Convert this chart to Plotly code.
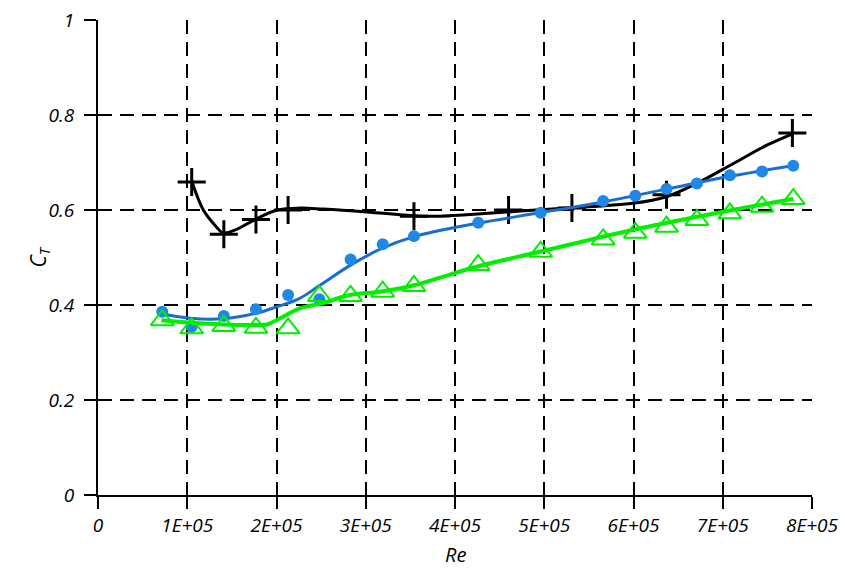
import plotly.graph_objects as go

# Measured thrust coefficient versus Reynolds number
re_black = [1.05e5, 1.41e5, 1.77e5, 2.13e5, 3.54e5, 4.60e5, 5.31e5, 6.37e5, 7.78e5]
ct_black = [0.659, 0.549, 0.580, 0.600, 0.587, 0.600, 0.604, 0.632, 0.762]

re_blue = [0.72e5, 1.05e5, 1.41e5, 1.77e5, 2.13e5, 2.48e5, 2.83e5, 3.19e5, 3.54e5,
           4.26e5, 4.96e5, 5.66e5, 6.02e5, 6.37e5, 6.71e5, 7.08e5, 7.44e5, 7.79e5]
ct_blue = [0.386, 0.354, 0.377, 0.391, 0.421, 0.412, 0.496, 0.528, 0.545,
           0.573, 0.594, 0.619, 0.630, 0.644, 0.656, 0.673, 0.681, 0.693]

re_green = [0.72e5, 1.05e5, 1.41e5, 1.77e5, 2.13e5, 2.48e5, 2.83e5, 3.19e5, 3.54e5,
            4.26e5, 4.96e5, 5.66e5, 6.02e5, 6.37e5, 6.71e5, 7.08e5, 7.44e5, 7.79e5]
ct_green = [0.368, 0.351, 0.356, 0.352, 0.351, 0.419, 0.419, 0.428, 0.440,
            0.484, 0.512, 0.538, 0.552, 0.565, 0.579, 0.593, 0.607, 0.623]

# Smoothed trend curves
re_black_fit = [1.05e5, 1.18e5, 1.31e5, 1.40e5, 1.54e5, 1.77e5, 2.01e5, 2.26e5, 2.52e5,
                3.01e5, 3.53e5, 3.83e5, 4.13e5, 4.99e5, 5.99e5, 6.37e5, 6.75e5, 7.12e5,
                7.50e5, 7.79e5]
ct_black_fit = [0.661, 0.600, 0.568, 0.552, 0.558, 0.581, 0.600, 0.604, 0.602,
                0.596, 0.588, 0.587, 0.590, 0.601, 0.614, 0.628, 0.660, 0.698,
                0.737, 0.761]

re_blue_fit = [0.68e5, 1.03e5, 1.40e5, 1.78e5, 2.00e5, 2.26e5, 2.49e5, 2.83e5, 3.18e5,
               3.54e5, 4.25e5, 4.95e5, 5.66e5, 6.37e5, 7.11e5, 7.79e5]
ct_blue_fit = [0.383, 0.372, 0.371, 0.383, 0.396, 0.414, 0.442, 0.484, 0.519,
               0.544, 0.572, 0.594, 0.617, 0.644, 0.672, 0.693]

re_green_fit = [0.71e5, 1.03e5, 1.40e5, 1.78e5, 1.89e5, 2.04e5, 2.26e5, 2.52e5, 2.82e5,
                3.16e5, 3.53e5, 4.25e5, 4.95e5, 5.99e5, 7.11e5, 7.79e5]
ct_green_fit = [0.368, 0.363, 0.359, 0.358, 0.359, 0.372, 0.393, 0.404, 0.421,
                0.428, 0.441, 0.481, 0.512, 0.558, 0.600, 0.623]

x_ticks = [0, 1e5, 2e5, 3e5, 4e5, 5e5, 6e5, 7e5, 8e5]
x_labels = ["0", "1E+05", "2E+05", "3E+05", "4E+05", "5E+05", "6E+05", "7E+05", "8E+05"]
y_ticks = [0, 0.2, 0.4, 0.6, 0.8, 1.0]
y_labels = ["0", "0.2", "0.4", "0.6", "0.8", "1"]

BLACK = "#000000"
BLUE_DOT = "#1f87e6"
BLUE_LINE = "#1a6dd0"
GREEN = "#00ee00"
FONT = "Open Sans"

fig = go.Figure()

fig.add_trace(go.Scatter(x=re_black_fit, y=ct_black_fit, mode="lines",
                         line=dict(color=BLACK, width=3, shape="spline", smoothing=1.0),
                         hoverinfo="skip"))
fig.add_trace(go.Scatter(x=re_black, y=ct_black, mode="markers",
                         marker=dict(symbol="cross-thin-open", size=20, color=BLACK,
                                     line=dict(color=BLACK, width=3))))

fig.add_trace(go.Scatter(x=re_blue_fit, y=ct_blue_fit, mode="lines",
                         line=dict(color=BLUE_LINE, width=3, shape="spline", smoothing=1.0),
                         hoverinfo="skip"))
fig.add_trace(go.Scatter(x=re_blue, y=ct_blue, mode="markers",
                         marker=dict(symbol="circle", size=12, color=BLUE_DOT,
                                     line=dict(width=0))))

fig.add_trace(go.Scatter(x=re_green_fit, y=ct_green_fit, mode="lines",
                         line=dict(color=GREEN, width=4, shape="spline", smoothing=1.0),
                         hoverinfo="skip"))
fig.add_trace(go.Scatter(x=re_green, y=ct_green, mode="markers",
                         marker=dict(symbol="triangle-up-open", size=20, color=GREEN,
                                     line=dict(color=GREEN, width=2))))

# Overlay axes supply the inner half of the crossing tick marks
fig.add_trace(go.Scatter(x=[None], y=[None], xaxis="x2", yaxis="y2",
                         mode="markers", hoverinfo="skip"))

common = dict(showline=True, linecolor=BLACK, linewidth=2, ticks="outside",
              ticklen=12, tickwidth=2, tickcolor=BLACK, zeroline=False,
              showgrid=True, gridcolor=BLACK, gridwidth=2, griddash="14px,8px",
              automargin=False,
              tickfont=dict(family=FONT, size=19, color=BLACK, style="italic"))

inner = dict(showticklabels=False, ticks="inside", ticklen=12, tickwidth=2,
             tickcolor=BLACK, showgrid=False, zeroline=False, showline=False,
             automargin=False)

fig.update_layout(
    width=845, height=569,
    margin=dict(l=98, r=33, t=20, b=74, autoexpand=False),
    paper_bgcolor="white", plot_bgcolor="white",
    showlegend=False,
    xaxis=dict(range=[0, 8e5], tickvals=x_ticks, ticktext=x_labels, **common),
    yaxis=dict(range=[0, 1], tickvals=y_ticks, ticktext=y_labels,
               ticklabelstandoff=6, **common),
    xaxis2=dict(range=[0, 8e5], overlaying="x", anchor="y2", side="bottom",
                tickvals=x_ticks, **inner),
    yaxis2=dict(range=[0, 1], overlaying="y", anchor="x2", side="left",
                tickvals=y_ticks, **inner),
    annotations=[
        dict(text="C<sub>T</sub>", xref="paper", yref="paper",
             x=0, y=0.5, xanchor="center", yanchor="middle",
             xshift=-60, textangle=-90, showarrow=False, borderpad=0,
             font=dict(family=FONT, size=21, color=BLACK, style="italic")),
        dict(text="Re", xref="paper", yref="paper",
             x=0.5, y=0, xanchor="center", yanchor="middle",
             yshift=-59, showarrow=False, borderpad=0,
             font=dict(family=FONT, size=20, color=BLACK, style="italic")),
    ],
)

fig.write_html("out.html")
